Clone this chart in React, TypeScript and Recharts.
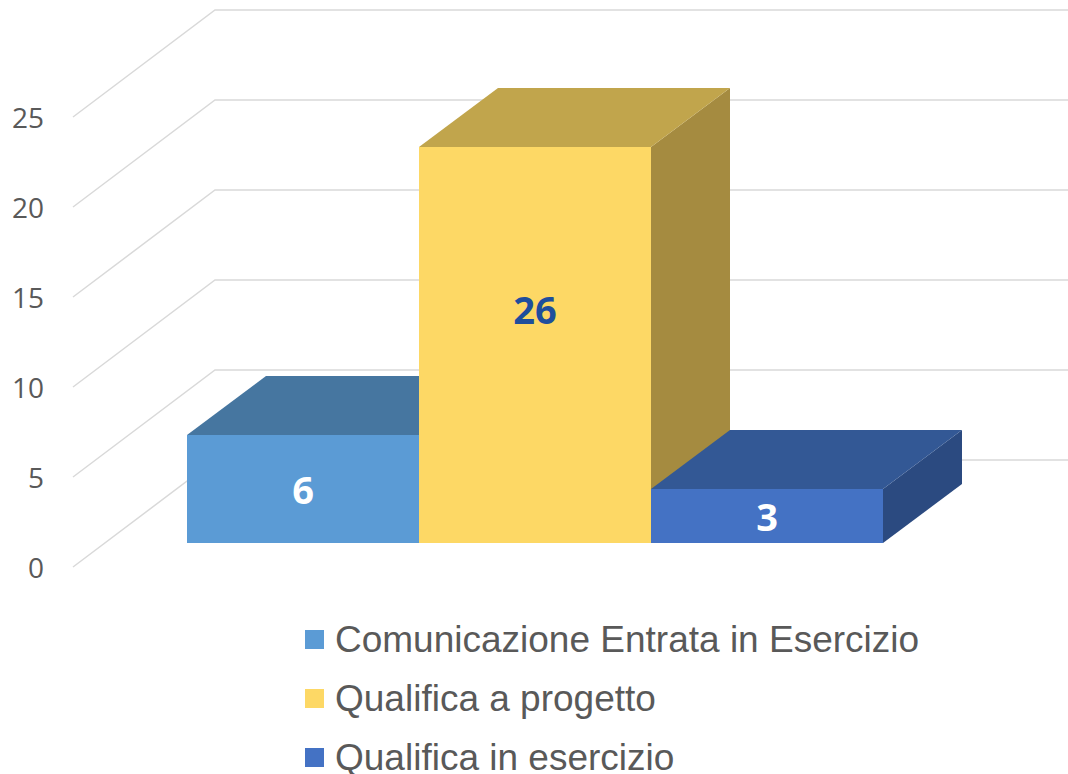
import { BarChart, Bar, XAxis, YAxis, CartesianGrid, Legend, LabelList } from "recharts";

// values (bar heights) and the labels printed on the bars
const seriesNames = [
  "Comunicazione Entrata in Esercizio",
  "Qualifica a progetto",
  "Qualifica in esercizio",
];
const seriesValues = [6, 22, 3];
const seriesLabels = ["6", "26", "3"];
const yTicks = [0, 5, 10, 15, 20, 25];

const faceColors = ["#5B9BD5", "#FDD865", "#4472C4"];
const topColors = ["#4676A0", "#C1A54C", "#335895"];
const sideColors = ["#3A6288", "#A58B40", "#2B4A80"];
const labelColors = ["#FFFFFF", "#1F4E9C", "#FFFFFF"];

const W = 1068;
const H = 774;

// 3d offsets
const BAR_DX = 79;
const BAR_DY = -59;
const WALL_FRONT = { dx: -114, dy: 24 };
const WALL_BACK = { dx: 28, dy: -83 };

const row: any = { name: "" };
seriesValues.forEach((v, i) => {
  row[`s${i}`] = v;
  row[`l${i}`] = seriesLabels[i];
});
const chartData = [row];

const boxShape = (i: number) => (props: any) => {
  const { x, y, width, height } = props;
  const top = `M${x},${y} L${x + BAR_DX},${y + BAR_DY} L${x + width + BAR_DX},${y + BAR_DY} L${x + width},${y} Z`;
  const side = `M${x + width},${y} L${x + width + BAR_DX},${y + BAR_DY} L${x + width + BAR_DX},${y + height + BAR_DY} L${x + width},${y + height} Z`;
  return (
    <g>
      <path d={side} fill={sideColors[i]} />
      <path d={top} fill={topColors[i]} />
      <rect x={x} y={y} width={width} height={height} fill={faceColors[i]} />
    </g>
  );
};

const boxLabel = (i: number) => (props: any) => {
  const { x, y, width, height, value } = props;
  const unit = height / seriesValues[i];
  const cy = y + height - (unit * Number(value)) / 2;
  return (
    <text
      x={x + width / 2}
      y={cy}
      textAnchor="middle"
      dominantBaseline="central"
      fill={labelColors[i]}
      fontSize={38}
      fontWeight={700}
      fontFamily="Open Sans"
    >
      {value}
    </text>
  );
};

const wallLine = (props: any) => {
  const { x1, y1, index } = props;
  const d = `M${x1 + WALL_FRONT.dx},${y1 + WALL_FRONT.dy} L${x1 + WALL_BACK.dx},${y1 + WALL_BACK.dy} L${W},${y1 + WALL_BACK.dy}`;
  return <path key={`wall-${index}`} d={d} stroke="#D9D9D9" strokeWidth={1.5} fill="none" />;
};

const WallTick = (props: any) => {
  const { y, payload } = props;
  return (
    <text
      x={44}
      y={y + WALL_FRONT.dy}
      textAnchor="end"
      dominantBaseline="central"
      fill="#595959"
      fontSize={28}
      fontFamily="Open Sans"
    >
      {payload.value}
    </text>
  );
};

const LegendList = (props: any) => {
  const { payload } = props;
  return (
    <div>
      {(payload || []).map((entry: any, i: number) => (
        <div key={i} style={{ display: "flex", alignItems: "center", height: 59 }}>
          <span style={{ width: 19, height: 19, background: entry.color, marginRight: 11, flexShrink: 0 }} />
          <span style={{ color: "#595959", fontSize: 37, fontFamily: "Liberation Sans", whiteSpace: "nowrap" }}>
            {entry.value}
          </span>
        </div>
      ))}
    </div>
  );
};

export default function App() {
  return (
    <div style={{ position: "absolute", left: 0, top: 0, width: W, height: H, background: "#fff" }}>
      <BarChart
        width={W}
        height={H}
        data={chartData}
        margin={{ top: 93, right: 184, bottom: 231, left: 127 }}
        barGap={0}
        barCategoryGap={0}
      >
        <CartesianGrid vertical={false} horizontal={wallLine} />
        <XAxis dataKey="name" hide />
        <YAxis
          domain={[0, 25]}
          ticks={yTicks}
          width={60}
          axisLine={false}
          tickLine={false}
          tick={<WallTick />}
        />
        <Legend
          layout="vertical"
          align="center"
          verticalAlign="middle"
          content={<LegendList />}
          wrapperStyle={{ position: "absolute", left: 305, top: 610, width: 700 }}
        />
        {seriesNames.map((name, i) => (
          <Bar
            key={name}
            dataKey={`s${i}`}
            name={name}
            fill={faceColors[i]}
            shape={boxShape(i)}
            isAnimationActive={false}
          >
            <LabelList dataKey={`l${i}`} content={boxLabel(i)} />
          </Bar>
        ))}
      </BarChart>
    </div>
  );
}
